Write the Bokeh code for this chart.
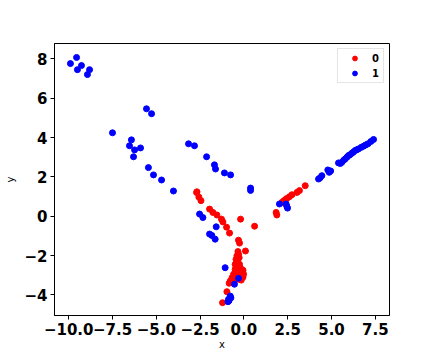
from bokeh.plotting import figure
from bokeh.models import Range1d, Legend, LegendItem
from bokeh.embed import file_html
from bokeh.resources import INLINE

# class 0 (red)
x0 = [-2.68, -2.70, -2.57, -2.45, -1.96, -1.77, -1.54, -1.28, -1.20, -0.99, -0.82,
      -0.19, 0.61, -0.31, -0.25, 0.09, -0.34, -0.40, -0.27, -0.34, -0.40, -0.50,
      -0.21, -0.11, -0.02, -0.59, -0.68, -0.78, -0.84, -0.31, -0.97, -1.22,
      -0.30, -0.45, -0.25, -0.35, -0.15, -0.45, -0.25, -0.05, -0.40, -0.55, -0.15,
      -0.05, -0.30, -0.50,
      1.84, 1.88, 2.17, 2.25, 2.30, 2.38, 2.45, 2.60, 2.74, 3.03, 3.17, 3.50]
y0 = [1.24, 1.20, 0.97, 0.79, 0.36, 0.19, 0.06, -0.15, -0.29, -0.56, -0.86,
      -0.15, -0.51, -1.22, -1.37, -1.77, -1.80, -2.02, -2.11, -2.36, -2.53, -2.70,
      -2.62, -2.87, -2.95, -2.95, -3.13, -3.30, -3.41, -3.21, -3.84, -4.40,
      -1.95, -2.20, -2.45, -2.75, -2.70, -2.85, -3.00, -3.10, -3.10, -3.20, -3.25,
      -2.75, -2.60, -2.45,
      0.19, 0.06, 0.70, 0.75, 0.79, 0.85, 0.90, 0.99, 1.09, 1.21, 1.30, 1.55]

# class 1 (blue)
x1 = [-9.55, -9.90, -9.27, -9.50, -8.81, -8.93,
      -5.56, -5.27, -7.50, -6.42, -6.53, -6.24, -5.90, -6.30, -5.45, -5.16, -4.70, -4.02,
      -3.16, -2.82, -2.13, -1.68, -1.62, -1.11, -0.76, 0.38, 0.38,
      -2.53, -2.34, -1.58, -1.96, -1.83, -1.64, -1.07, -0.31, -0.54,
      -0.78, -0.88, -0.91, -0.74, -0.85,
      2.03, 2.41, 2.49, 2.45,
      4.26, 4.35, 4.45, 4.79, 4.87, 4.95, 5.40, 5.50, 5.59, 5.70, 5.78, 5.88, 5.97,
      6.05, 6.16, 6.25, 6.35, 6.45, 6.54, 6.70, 6.83, 6.95, 7.08, 7.25, 7.40]
y1 = [8.07, 7.76, 7.66, 7.45, 7.45, 7.20,
      5.46, 5.21, 4.24, 3.88, 3.58, 3.37, 3.47, 3.02, 2.47, 2.10, 1.84, 1.28,
      3.68, 3.58, 3.02, 2.61, 2.40, 2.20, 2.10, 1.43, 1.31,
      0.11, -0.07, -0.54, -0.91, -0.98, -1.17, -2.62, -3.16, -3.46,
      -4.06, -4.23, -4.35, -4.15, -4.30,
      0.62, 0.62, 0.41, 0.50,
      1.89, 1.95, 2.06, 2.35, 2.23, 2.30, 2.71, 2.68, 2.74, 2.85, 2.91, 3.00, 3.08,
      3.12, 3.20, 3.26, 3.34, 3.38, 3.42, 3.50, 3.56, 3.62, 3.68, 3.80, 3.90]

labels = ["0", "1"]
xticks = [-10.0, -7.5, -5.0, -2.5, 0.0, 2.5, 5.0, 7.5]
yticks = [-4, -2, 0, 2, 4, 6, 8]

p = figure(width=432, height=360, output_backend="svg", toolbar_location=None,
           x_range=Range1d(-10.81, 8.31), y_range=Range1d(-5.05, 8.78),
           min_border_left=54, min_border_top=43, min_border_right=43, min_border_bottom=45)

r0 = p.scatter(x0, y0, size=6, color="red")
r1 = p.scatter(x1, y1, size=6, color="blue")

p.xgrid.visible = False
p.ygrid.visible = False
p.outline_line_color = "black"
p.outline_line_width = 1
p.background_fill_color = "white"
p.border_fill_color = "white"

p.xaxis.ticker = xticks
p.yaxis.ticker = yticks
p.xaxis.major_label_overrides = {v: f"{v:.1f}".replace("-", "\u2212") for v in xticks}
p.yaxis.major_label_overrides = {v: str(v).replace("-", "\u2212") for v in yticks}
p.xaxis.axis_label = "x"
p.yaxis.axis_label = "y"
for ax in (p.xaxis, p.yaxis):
    ax.major_label_text_font = "DejaVu Sans"
    ax.major_label_text_font_style = "bold"
    ax.major_label_text_font_size = "15px"
    ax.major_label_text_color = "black"
    ax.axis_label_text_font = "DejaVu Sans"
    ax.axis_label_text_font_style = "normal"
    ax.axis_label_text_font_size = "10px"
    ax.axis_label_text_color = "black"
    ax.axis_line_color = "black"
    ax.major_tick_line_color = "black"
    ax.major_tick_out = 4
    ax.major_tick_in = 0
    ax.minor_tick_line_color = None
    ax.major_label_standoff = 3
p.xaxis.axis_label_standoff = 1
p.yaxis.axis_label_standoff = 5

legend = Legend(items=[LegendItem(label=labels[0], renderers=[r0]),
                       LegendItem(label=labels[1], renderers=[r1])],
                location="top_right")
legend.label_text_font = "DejaVu Sans"
legend.label_text_font_style = "bold"
legend.label_text_font_size = "10px"
legend.label_text_color = "black"
legend.margin = 5
legend.padding = 3
legend.spacing = 3
legend.glyph_width = 27
legend.glyph_height = 12
legend.label_height = 12
legend.label_width = 8
legend.label_standoff = 4
legend.border_line_color = "#cccccc"
legend.border_line_width = 1
legend.background_fill_alpha = 0.8
p.add_layout(legend)

open("out.html", "w").write(file_html(p, INLINE))
